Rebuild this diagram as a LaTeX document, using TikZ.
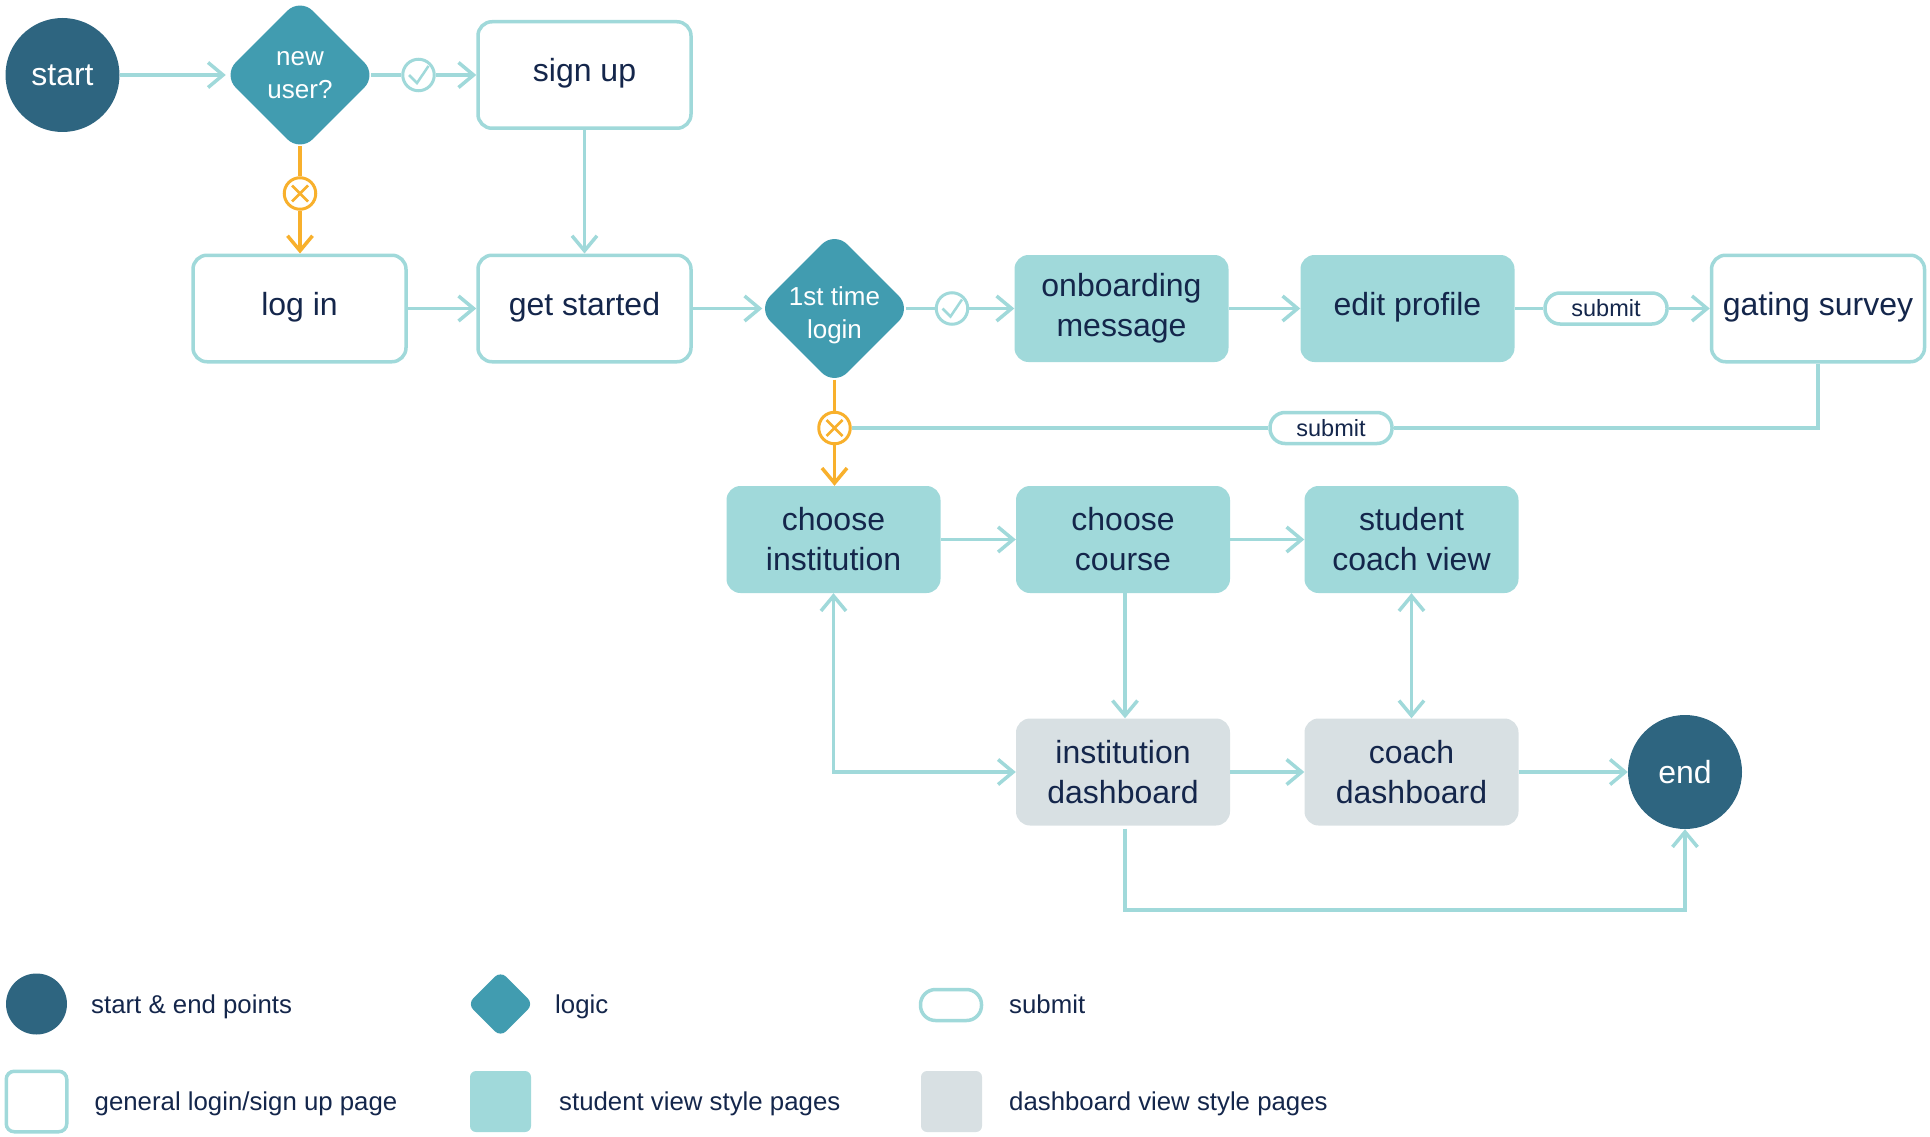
\documentclass[tikz,border=0pt]{standalone}
\usepackage{fontspec}
\setmainfont{Liberation Sans}
\usetikzlibrary{arrows.meta,shapes.geometric}

\definecolor{navy}{HTML}{14264B}
\definecolor{deepblue}{HTML}{2E6580}
\definecolor{logicblue}{HTML}{419CB0}
\definecolor{paleteal}{HTML}{A0D9DA}
\definecolor{paleslate}{HTML}{D8E0E3}
\definecolor{amber}{HTML}{F8B02C}

\tikzset{
    pagetext/.style={text=navy, align=center, font=\fontsize{32}{40}\selectfont},
    oneline/.style={text height=24pt, text depth=10.6pt},
    generalbox/.style={pagetext, draw=paleteal, line width=3.5pt, rounded corners=14pt, fill=white, minimum width=213pt, minimum height=106.5pt, inner sep=0pt},
    studentbox/.style={pagetext, fill=paleteal, rounded corners=14pt, minimum width=214pt, minimum height=107pt, inner sep=0pt},
    dashbox/.style={pagetext, fill=paleslate, rounded corners=14pt, minimum width=214pt, minimum height=107pt, inner sep=0pt},
    terminal/.style={circle, fill=deepblue, text=white, minimum size=114pt, inner sep=0pt, font=\fontsize{32}{40}\selectfont},
    logic/.style={diamond, aspect=1, fill=logicblue, text=white, rounded corners=18pt, minimum size=154pt, inner sep=0pt, align=center, font=\fontsize{26}{33}\selectfont},
    pill/.style={draw=paleteal, line width=3.5pt, fill=white, rounded corners=15pt, text=navy, minimum width=122pt, minimum height=31pt, inner sep=0pt, font=\fontsize{23.5}{28}\selectfont},
    yesdot/.style={circle, draw=paleteal, line width=3pt, fill=white, minimum size=31.5pt, inner sep=0pt,
        path picture={\draw[paleteal, line width=2.5pt] (path picture bounding box.center) ++(-9.5,0) -- ++(8,8) -- ++(11.5,-17);}},
    nodot/.style={circle, draw=amber, line width=3pt, fill=white, minimum size=31.5pt, inner sep=0pt,
        path picture={\draw[amber, line width=2.5pt] (path picture bounding box.center) ++(-8,-8) -- ++(16,16) ++(-16,0) -- ++(16,-16);}},
    flow/.style={draw=paleteal, line width=3.5pt},
    flowto/.style={flow, -{Straight Barb[length=15pt,width=25pt,line width=3.5pt]}},
    flowboth/.style={flow, {Straight Barb[length=15pt,width=25pt,line width=3.5pt]}-{Straight Barb[length=15pt,width=25pt,line width=3.5pt]}},
    noflow/.style={draw=amber, line width=3.5pt},
    noflowto/.style={noflow, -{Straight Barb[length=15pt,width=25pt,line width=3.5pt]}},
    legendtext/.style={anchor=base west, text=navy, inner sep=0pt, font=\fontsize{25.8}{32}\selectfont}
}

\begin{document}
\begin{tikzpicture}[x=1pt, y=-1pt]
    \useasboundingbox (0, 0) rectangle (1930, 1137);

    \node[terminal] (start) at (62.5, 75) {start};
    \node[logic] (newuser) at (300, 75) {new\\user?};
    \node[yesdot] (yes0) at (418.5, 75) {};
    \node[generalbox, oneline] (signup) at (584.5, 75) {sign up};
    \node[nodot] (no0) at (300, 193.5) {};

    \node[generalbox, oneline] (login) at (299.5, 308.5) {log in};
    \node[generalbox, oneline] (getstarted) at (584.5, 308.5) {get started};
    \node[logic, text height=65pt] (firstlogin) at (834.5, 308.5) {\makebox[0pt]{1st time}\\\makebox[0pt]{login}};
    \node[yesdot] (yes1) at (952, 308.5) {};
    \node[studentbox] (onboarding) at (1121.5, 308.5) {onboarding\\message};
    \node[studentbox, oneline] (editprofile) at (1407.5, 308.5) {edit profile};
    \node[pill] (submit0) at (1606, 308.5) {submit};
    \node[generalbox, oneline] (gating) at (1818, 308.5) {gating survey};

    \node[nodot] (no1) at (834.5, 428) {};
    \node[pill] (submit1) at (1331, 428) {submit};

    \node[studentbox] (institution) at (833.5, 539.5) {choose\\institution};
    \node[studentbox] (course) at (1123, 539.5) {choose\\course};
    \node[studentbox] (coachview) at (1411.5, 539.5) {student\\coach view};

    \node[dashbox] (instdash) at (1123, 772) {institution\\dashboard};
    \node[dashbox] (coachdash) at (1411.5, 772) {coach\\dashboard};
    \node[terminal] (finish) at (1685, 772) {end};

    % top row and second row
    \draw[flowto, shorten >=-3pt] (start) -- (newuser);
    \draw[flow, shorten <=-6pt] (newuser) -- (yes0);
    \draw[flowto] (yes0) -- (signup);
    \draw[noflow, shorten <=-6pt] (newuser) -- (no0);
    \draw[noflowto] (no0) -- (no0 |- login.north);
    \draw[flowto] (signup) -- (getstarted);
    \draw[flowto] (login) -- (getstarted);
    \draw[flowto, shorten >=-5pt] (getstarted) -- (firstlogin);
    \draw[flow, shorten <=-6pt] (firstlogin) -- (yes1);
    \draw[flowto] (yes1) -- (onboarding);
    \draw[flowto] (onboarding) -- (editprofile);
    \draw[flow] (editprofile) -- (submit0);
    \draw[flowto] (submit0) -- (gating);

    % back from the survey
    \draw[flow] (gating) |- (submit1);
    \draw[flow] (submit1) -- (no1);
    \draw[noflow, shorten <=-6pt] (firstlogin) -- (no1);
    \draw[noflowto] (no1) -- (no1 |- institution.north);

    \draw[flowto] (institution) -- (course);
    \draw[flowto] (course) -- (coachview);
    \draw[flowto] ([xshift=2pt]course.south) -- ([xshift=2pt]instdash.north);
    \draw[flowboth] (coachview) -- (coachdash);
    \draw[flowboth] (institution) |- (instdash);
    \draw[flowto] (instdash) -- (coachdash);
    \draw[flowto] (coachdash) -- (finish);
    \draw[flowto, shorten <=3pt] ([xshift=2pt]instdash.south) -- ++(0, 84.5) -| (finish);

    % legend
    \node[circle, fill=deepblue, minimum size=61pt, inner sep=0pt] (keystart) at (36.5, 1004) {};
    \node[legendtext] (keystarttext) at (91, 1013) {start \& end points};
    \node[diamond, aspect=1, fill=logicblue, rounded corners=8pt, minimum size=66pt, inner sep=0pt] (keylogic) at (500.5, 1004) {};
    \node[legendtext] (keylogictext) at (555, 1013) {logic};
    \node[draw=paleteal, line width=3.5pt, fill=white, rounded corners=15pt, minimum width=61pt, minimum height=31pt, inner sep=0pt] (keysubmit) at (951, 1005) {};
    \node[legendtext] (keysubmittext) at (1009, 1013) {submit};

    \node[draw=paleteal, line width=3.5pt, fill=white, rounded corners=8pt, minimum width=60.5pt, minimum height=60.5pt, inner sep=0pt] (keygeneral) at (36.5, 1101.5) {};
    \node[legendtext] (keygeneraltext) at (94.5, 1110) {general login/sign up page};
    \node[fill=paleteal, rounded corners=6pt, minimum width=61pt, minimum height=61pt, inner sep=0pt] (keystudent) at (500.5, 1101.5) {};
    \node[legendtext] (keystudenttext) at (559, 1110) {student view style pages};
    \node[fill=paleslate, rounded corners=6pt, minimum width=61pt, minimum height=61pt, inner sep=0pt] (keydash) at (951.5, 1101.5) {};
    \node[legendtext] (keydashtext) at (1009, 1110) {dashboard view style pages};
\end{tikzpicture}
\end{document}
